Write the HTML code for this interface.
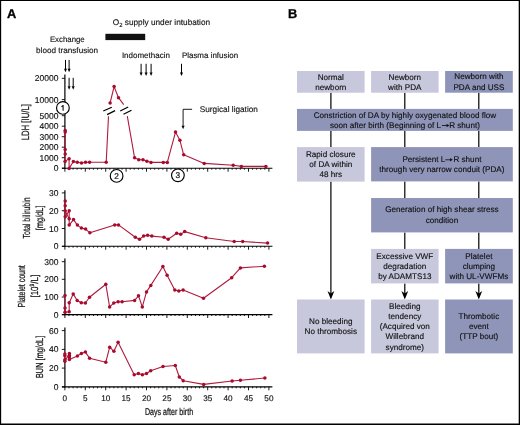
<!DOCTYPE html>
<html><head><meta charset="utf-8"><style>
html,body{margin:0;padding:0;background:#fff;}
svg{display:block;font-family:"Liberation Sans", sans-serif;text-rendering:geometricPrecision;will-change:transform;}
text{fill:#111;stroke:#111;stroke-width:0.14px;}
</style></head><body>
<svg width="520" height="425" viewBox="0 0 520 425">
<rect width="520" height="425" fill="#fff"/>
<path d="M0,0H520V0.95H0Z M0,0H1.15V425H0Z M518.7,0H520V425H518.7Z M0,423.5H520V425H0Z" fill="#000"/>
<text x="7.0" y="18.0" font-size="12.8" font-weight="bold" style="fill:#000;stroke:#000;stroke-width:0.3px">A</text>
<text x="288.0" y="18.0" font-size="12.8" font-weight="bold" style="fill:#000;stroke:#000;stroke-width:0.3px">B</text>
<line x1="62" y1="168.3" x2="272.4" y2="168.3" stroke="#000" stroke-width="1.1"/>
<path d="M64.90,168.3v3.4 M68.98,168.3v1.4 M73.06,168.3v1.4 M77.14,168.3v1.4 M81.22,168.3v1.4 M85.30,168.3v3.4 M89.38,168.3v1.4 M93.46,168.3v1.4 M97.54,168.3v1.4 M101.62,168.3v1.4 M105.70,168.3v3.4 M109.78,168.3v1.4 M113.86,168.3v1.4 M117.94,168.3v1.4 M122.02,168.3v1.4 M126.10,168.3v3.4 M130.18,168.3v1.4 M134.26,168.3v1.4 M138.34,168.3v1.4 M142.42,168.3v1.4 M146.50,168.3v3.4 M150.58,168.3v1.4 M154.66,168.3v1.4 M158.74,168.3v1.4 M162.82,168.3v1.4 M166.90,168.3v3.4 M170.98,168.3v1.4 M175.06,168.3v1.4 M179.14,168.3v1.4 M183.22,168.3v1.4 M187.30,168.3v3.4 M191.38,168.3v1.4 M195.46,168.3v1.4 M199.54,168.3v1.4 M203.62,168.3v1.4 M207.70,168.3v3.4 M211.78,168.3v1.4 M215.86,168.3v1.4 M219.94,168.3v1.4 M224.02,168.3v1.4 M228.10,168.3v3.4 M232.18,168.3v1.4 M236.26,168.3v1.4 M240.34,168.3v1.4 M244.42,168.3v1.4 M248.50,168.3v3.4 M252.58,168.3v1.4 M256.66,168.3v1.4 M260.74,168.3v1.4 M264.82,168.3v1.4 M268.90,168.3v3.4" stroke="#000" stroke-width="0.9"/>
<line x1="64.9" y1="74.4" x2="64.9" y2="169" stroke="#000" stroke-width="1.2"/>
<line x1="61.8" y1="78.3" x2="64.9" y2="78.3" stroke="#000" stroke-width="0.9"/>
<text x="58.5" y="81.3" font-size="8.5" text-anchor="end">20000</text>
<line x1="61.8" y1="99.6" x2="64.9" y2="99.6" stroke="#000" stroke-width="0.9"/>
<text x="58.5" y="102.6" font-size="8.5" text-anchor="end">10000</text>
<line x1="61.8" y1="115.7" x2="64.9" y2="115.7" stroke="#000" stroke-width="0.9"/>
<text x="58.5" y="118.7" font-size="8.5" text-anchor="end">5000</text>
<line x1="61.8" y1="126.2" x2="64.9" y2="126.2" stroke="#000" stroke-width="0.9"/>
<text x="58.5" y="129.2" font-size="8.5" text-anchor="end">4000</text>
<line x1="61.8" y1="136.7" x2="64.9" y2="136.7" stroke="#000" stroke-width="0.9"/>
<text x="58.5" y="139.7" font-size="8.5" text-anchor="end">3000</text>
<line x1="61.8" y1="147.2" x2="64.9" y2="147.2" stroke="#000" stroke-width="0.9"/>
<text x="58.5" y="150.2" font-size="8.5" text-anchor="end">2000</text>
<line x1="61.8" y1="157.7" x2="64.9" y2="157.7" stroke="#000" stroke-width="0.9"/>
<text x="58.5" y="160.7" font-size="8.5" text-anchor="end">1000</text>
<line x1="61.8" y1="168.2" x2="64.9" y2="168.2" stroke="#000" stroke-width="0.9"/>
<text x="58.5" y="171.2" font-size="8.5" text-anchor="end">0</text>
<line x1="62" y1="246.3" x2="272.4" y2="246.3" stroke="#000" stroke-width="1.1"/>
<path d="M64.90,246.3v3.4 M68.98,246.3v1.4 M73.06,246.3v1.4 M77.14,246.3v1.4 M81.22,246.3v1.4 M85.30,246.3v3.4 M89.38,246.3v1.4 M93.46,246.3v1.4 M97.54,246.3v1.4 M101.62,246.3v1.4 M105.70,246.3v3.4 M109.78,246.3v1.4 M113.86,246.3v1.4 M117.94,246.3v1.4 M122.02,246.3v1.4 M126.10,246.3v3.4 M130.18,246.3v1.4 M134.26,246.3v1.4 M138.34,246.3v1.4 M142.42,246.3v1.4 M146.50,246.3v3.4 M150.58,246.3v1.4 M154.66,246.3v1.4 M158.74,246.3v1.4 M162.82,246.3v1.4 M166.90,246.3v3.4 M170.98,246.3v1.4 M175.06,246.3v1.4 M179.14,246.3v1.4 M183.22,246.3v1.4 M187.30,246.3v3.4 M191.38,246.3v1.4 M195.46,246.3v1.4 M199.54,246.3v1.4 M203.62,246.3v1.4 M207.70,246.3v3.4 M211.78,246.3v1.4 M215.86,246.3v1.4 M219.94,246.3v1.4 M224.02,246.3v1.4 M228.10,246.3v3.4 M232.18,246.3v1.4 M236.26,246.3v1.4 M240.34,246.3v1.4 M244.42,246.3v1.4 M248.50,246.3v3.4 M252.58,246.3v1.4 M256.66,246.3v1.4 M260.74,246.3v1.4 M264.82,246.3v1.4 M268.90,246.3v3.4" stroke="#000" stroke-width="0.9"/>
<line x1="64.9" y1="190.2" x2="64.9" y2="247" stroke="#000" stroke-width="1.2"/>
<line x1="61.8" y1="192.9" x2="64.9" y2="192.9" stroke="#000" stroke-width="0.9"/>
<text x="58.5" y="195.9" font-size="8.5" text-anchor="end">30</text>
<line x1="61.8" y1="210.7" x2="64.9" y2="210.7" stroke="#000" stroke-width="0.9"/>
<text x="58.5" y="213.7" font-size="8.5" text-anchor="end">20</text>
<line x1="61.8" y1="228.5" x2="64.9" y2="228.5" stroke="#000" stroke-width="0.9"/>
<text x="58.5" y="231.5" font-size="8.5" text-anchor="end">10</text>
<line x1="61.8" y1="246.3" x2="64.9" y2="246.3" stroke="#000" stroke-width="0.9"/>
<text x="58.5" y="249.3" font-size="8.5" text-anchor="end">0</text>
<line x1="62" y1="314.6" x2="272.4" y2="314.6" stroke="#000" stroke-width="1.1"/>
<path d="M64.90,314.6v3.4 M68.98,314.6v1.4 M73.06,314.6v1.4 M77.14,314.6v1.4 M81.22,314.6v1.4 M85.30,314.6v3.4 M89.38,314.6v1.4 M93.46,314.6v1.4 M97.54,314.6v1.4 M101.62,314.6v1.4 M105.70,314.6v3.4 M109.78,314.6v1.4 M113.86,314.6v1.4 M117.94,314.6v1.4 M122.02,314.6v1.4 M126.10,314.6v3.4 M130.18,314.6v1.4 M134.26,314.6v1.4 M138.34,314.6v1.4 M142.42,314.6v1.4 M146.50,314.6v3.4 M150.58,314.6v1.4 M154.66,314.6v1.4 M158.74,314.6v1.4 M162.82,314.6v1.4 M166.90,314.6v3.4 M170.98,314.6v1.4 M175.06,314.6v1.4 M179.14,314.6v1.4 M183.22,314.6v1.4 M187.30,314.6v3.4 M191.38,314.6v1.4 M195.46,314.6v1.4 M199.54,314.6v1.4 M203.62,314.6v1.4 M207.70,314.6v3.4 M211.78,314.6v1.4 M215.86,314.6v1.4 M219.94,314.6v1.4 M224.02,314.6v1.4 M228.10,314.6v3.4 M232.18,314.6v1.4 M236.26,314.6v1.4 M240.34,314.6v1.4 M244.42,314.6v1.4 M248.50,314.6v3.4 M252.58,314.6v1.4 M256.66,314.6v1.4 M260.74,314.6v1.4 M264.82,314.6v1.4 M268.90,314.6v3.4" stroke="#000" stroke-width="0.9"/>
<line x1="64.9" y1="258.5" x2="64.9" y2="315.3" stroke="#000" stroke-width="1.2"/>
<line x1="61.8" y1="261.7" x2="64.9" y2="261.7" stroke="#000" stroke-width="0.9"/>
<text x="58.5" y="264.7" font-size="8.5" text-anchor="end">300</text>
<line x1="61.8" y1="279.3" x2="64.9" y2="279.3" stroke="#000" stroke-width="0.9"/>
<text x="58.5" y="282.3" font-size="8.5" text-anchor="end">200</text>
<line x1="61.8" y1="297.0" x2="64.9" y2="297.0" stroke="#000" stroke-width="0.9"/>
<text x="58.5" y="300.0" font-size="8.5" text-anchor="end">100</text>
<line x1="61.8" y1="314.6" x2="64.9" y2="314.6" stroke="#000" stroke-width="0.9"/>
<text x="58.5" y="317.6" font-size="8.5" text-anchor="end">0</text>
<line x1="62" y1="386.9" x2="272.4" y2="386.9" stroke="#000" stroke-width="1.1"/>
<path d="M64.90,386.9v3.4 M68.98,386.9v1.4 M73.06,386.9v1.4 M77.14,386.9v1.4 M81.22,386.9v1.4 M85.30,386.9v3.4 M89.38,386.9v1.4 M93.46,386.9v1.4 M97.54,386.9v1.4 M101.62,386.9v1.4 M105.70,386.9v3.4 M109.78,386.9v1.4 M113.86,386.9v1.4 M117.94,386.9v1.4 M122.02,386.9v1.4 M126.10,386.9v3.4 M130.18,386.9v1.4 M134.26,386.9v1.4 M138.34,386.9v1.4 M142.42,386.9v1.4 M146.50,386.9v3.4 M150.58,386.9v1.4 M154.66,386.9v1.4 M158.74,386.9v1.4 M162.82,386.9v1.4 M166.90,386.9v3.4 M170.98,386.9v1.4 M175.06,386.9v1.4 M179.14,386.9v1.4 M183.22,386.9v1.4 M187.30,386.9v3.4 M191.38,386.9v1.4 M195.46,386.9v1.4 M199.54,386.9v1.4 M203.62,386.9v1.4 M207.70,386.9v3.4 M211.78,386.9v1.4 M215.86,386.9v1.4 M219.94,386.9v1.4 M224.02,386.9v1.4 M228.10,386.9v3.4 M232.18,386.9v1.4 M236.26,386.9v1.4 M240.34,386.9v1.4 M244.42,386.9v1.4 M248.50,386.9v3.4 M252.58,386.9v1.4 M256.66,386.9v1.4 M260.74,386.9v1.4 M264.82,386.9v1.4 M268.90,386.9v3.4" stroke="#000" stroke-width="0.9"/>
<line x1="64.9" y1="327.5" x2="64.9" y2="387.6" stroke="#000" stroke-width="1.2"/>
<line x1="61.8" y1="330.6" x2="64.9" y2="330.6" stroke="#000" stroke-width="0.9"/>
<text x="58.5" y="333.6" font-size="8.5" text-anchor="end">60</text>
<line x1="61.8" y1="349.4" x2="64.9" y2="349.4" stroke="#000" stroke-width="0.9"/>
<text x="58.5" y="352.4" font-size="8.5" text-anchor="end">40</text>
<line x1="61.8" y1="368.1" x2="64.9" y2="368.1" stroke="#000" stroke-width="0.9"/>
<text x="58.5" y="371.1" font-size="8.5" text-anchor="end">20</text>
<line x1="61.8" y1="386.9" x2="64.9" y2="386.9" stroke="#000" stroke-width="0.9"/>
<text x="58.5" y="389.9" font-size="8.5" text-anchor="end">0</text>
<text x="64.9" y="401.1" font-size="8.2" text-anchor="middle">0</text>
<text x="85.3" y="401.1" font-size="8.2" text-anchor="middle">5</text>
<text x="105.7" y="401.1" font-size="8.2" text-anchor="middle">10</text>
<text x="126.1" y="401.1" font-size="8.2" text-anchor="middle">15</text>
<text x="146.5" y="401.1" font-size="8.2" text-anchor="middle">20</text>
<text x="166.9" y="401.1" font-size="8.2" text-anchor="middle">25</text>
<text x="187.3" y="401.1" font-size="8.2" text-anchor="middle">30</text>
<text x="207.7" y="401.1" font-size="8.2" text-anchor="middle">35</text>
<text x="228.1" y="401.1" font-size="8.2" text-anchor="middle">40</text>
<text x="248.5" y="401.1" font-size="8.2" text-anchor="middle">45</text>
<text x="268.9" y="401.1" font-size="8.2" text-anchor="middle">50</text>
<text x="169" y="414.6" font-size="9.8" text-anchor="middle" textLength="48.2" lengthAdjust="spacingAndGlyphs" style="stroke-width:0.22px">Days after birth</text>
<text transform="translate(28.5,122.2) rotate(-90)" x="0" y="0" font-size="10.6" text-anchor="middle" textLength="36.2" lengthAdjust="spacingAndGlyphs" style="stroke-width:0.22px">LDH [IU/L]</text>
<text transform="translate(29.8,217.9) rotate(-90)" x="0" y="0" font-size="10.2" text-anchor="middle" textLength="41.2" lengthAdjust="spacingAndGlyphs" style="stroke-width:0.22px">Total bilirubin</text>
<text transform="translate(42.6,217.85) rotate(-90)" x="0" y="0" font-size="10.2" text-anchor="middle" textLength="24.7" lengthAdjust="spacingAndGlyphs" style="stroke-width:0.22px">[mg/dL]</text>
<text transform="translate(25.2,286.35) rotate(-90)" x="0" y="0" font-size="10.2" text-anchor="middle" textLength="42.3" lengthAdjust="spacingAndGlyphs" style="stroke-width:0.22px">Platelet count</text>
<text transform="translate(37.7,286.2) rotate(-90)" x="0" y="0" font-size="10.2" text-anchor="middle" textLength="22.7" lengthAdjust="spacingAndGlyphs" style="stroke-width:0.22px">[10<tspan font-size="6.3" dy="-3.3">9</tspan><tspan dy="3.3">/L]</tspan></text>
<text transform="translate(42.9,356.95) rotate(-90)" x="0" y="0" font-size="10.2" text-anchor="middle" textLength="42.3" lengthAdjust="spacingAndGlyphs" style="stroke-width:0.22px">BUN [mg/dL]</text>
<path d="M65.2,130.4 L65.2,132 L65.2,149.5 L65.2,154.1 L65.0,161.4 L69.1,158.8 L69.1,168.4 L73.4,161.5 L77.3,162.2 L81.5,163 L85.5,162.2 L89.6,162.3 L106.2,162.3 L108.5,116.2" fill="none" stroke="#b01a3d" stroke-width="1.1" stroke-linejoin="round"/>
<g fill="#a80a2c"><circle cx="65.2" cy="130.4" r="1.75"/><circle cx="65.2" cy="132" r="1.75"/><circle cx="65.2" cy="149.5" r="1.75"/><circle cx="65.2" cy="154.1" r="1.75"/><circle cx="65.0" cy="161.4" r="1.75"/><circle cx="69.1" cy="158.8" r="1.75"/><circle cx="69.1" cy="168.4" r="1.75"/><circle cx="73.4" cy="161.5" r="1.75"/><circle cx="77.3" cy="162.2" r="1.75"/><circle cx="81.5" cy="163" r="1.75"/><circle cx="85.5" cy="162.2" r="1.75"/><circle cx="89.6" cy="162.3" r="1.75"/><circle cx="106.2" cy="162.3" r="1.75"/></g>
<path d="M110.1,102.9 L114.1,86.6 L118.5,97.7 L123.7,104.6" fill="none" stroke="#b01a3d" stroke-width="1.1" stroke-linejoin="round"/>
<g fill="#a80a2c"><circle cx="110.1" cy="102.9" r="1.75"/><circle cx="114.1" cy="86.6" r="1.75"/><circle cx="118.5" cy="97.7" r="1.75"/></g>
<path d="M127.3,116.2 L134.6,157.8 L138.75,159.7 L143,159.7 L146.9,161.3 L151,162.4 L163.3,162.4 L167.3,162.4 L175.5,132.1 L179.9,140.3 L183.7,154.8 L204.2,163.4 L233.2,165.2 L241.4,166.4 L265.9,166.4" fill="none" stroke="#b01a3d" stroke-width="1.1" stroke-linejoin="round"/>
<g fill="#a80a2c"><circle cx="134.6" cy="157.8" r="1.75"/><circle cx="138.75" cy="159.7" r="1.75"/><circle cx="143" cy="159.7" r="1.75"/><circle cx="146.9" cy="161.3" r="1.75"/><circle cx="151" cy="162.4" r="1.75"/><circle cx="163.3" cy="162.4" r="1.75"/><circle cx="167.3" cy="162.4" r="1.75"/><circle cx="175.5" cy="132.1" r="1.75"/><circle cx="179.9" cy="140.3" r="1.75"/><circle cx="183.7" cy="154.8" r="1.75"/><circle cx="204.2" cy="163.4" r="1.75"/><circle cx="233.2" cy="165.2" r="1.75"/><circle cx="241.4" cy="166.4" r="1.75"/><circle cx="265.9" cy="166.4" r="1.75"/></g>
<path d="M103.3,111 L111.8,107.3 M107.1,114.6 L115.1,110.6 M120.2,111 L128.2,107 M123.5,114.3 L131.5,110.3" stroke="#000" stroke-width="1.2"/>
<path d="M65.2,201.1 L65.2,205.8 L65.2,210.8 L65.2,216.8 L69.2,210.8 L69.2,218.7 L69.2,225.1 L73.5,219.6 L77.4,225.1 L81.4,228.1 L85.6,229.1 L89.9,232.8 L114.7,224.9 L118.5,224.9 L135.3,237.2 L139.5,239.3 L143.6,236.1 L147.6,235.3 L151.8,236.1 L164,237.2 L168.2,239.3 L176.7,233.2 L180.7,234.2 L184.7,231.6 L205.8,237.8 L234.2,241.5 L242.7,241.5 L267.6,243.1" fill="none" stroke="#b01a3d" stroke-width="1.1" stroke-linejoin="round"/>
<path d="M65.2,210.8 L69.2,218.7" fill="none" stroke="#b01a3d" stroke-width="1.1"/>
<g fill="#a80a2c"><circle cx="65.2" cy="201.1" r="1.75"/><circle cx="65.2" cy="205.8" r="1.75"/><circle cx="65.2" cy="210.8" r="1.75"/><circle cx="65.2" cy="216.8" r="1.75"/><circle cx="69.2" cy="210.8" r="1.75"/><circle cx="69.2" cy="218.7" r="1.75"/><circle cx="69.2" cy="225.1" r="1.75"/><circle cx="73.5" cy="219.6" r="1.75"/><circle cx="77.4" cy="225.1" r="1.75"/><circle cx="81.4" cy="228.1" r="1.75"/><circle cx="85.6" cy="229.1" r="1.75"/><circle cx="89.9" cy="232.8" r="1.75"/><circle cx="114.7" cy="224.9" r="1.75"/><circle cx="118.5" cy="224.9" r="1.75"/><circle cx="135.3" cy="237.2" r="1.75"/><circle cx="139.5" cy="239.3" r="1.75"/><circle cx="143.6" cy="236.1" r="1.75"/><circle cx="147.6" cy="235.3" r="1.75"/><circle cx="151.8" cy="236.1" r="1.75"/><circle cx="164" cy="237.2" r="1.75"/><circle cx="168.2" cy="239.3" r="1.75"/><circle cx="176.7" cy="233.2" r="1.75"/><circle cx="180.7" cy="234.2" r="1.75"/><circle cx="184.7" cy="231.6" r="1.75"/><circle cx="205.8" cy="237.8" r="1.75"/><circle cx="234.2" cy="241.5" r="1.75"/><circle cx="242.7" cy="241.5" r="1.75"/><circle cx="267.6" cy="243.1" r="1.75"/></g>
<path d="M65,295.5 L65,308.1 L65,312.3 L69.2,311.8 L69.2,302.7 L73.2,293.9 L77.2,300.5 L81.3,302.7 L85.4,303 L89.5,297.3 L105.8,284.2 L109.6,306.9 L113.8,303.1 L118.1,301.7 L122.1,301.7 L134.6,300.4 L138.5,295.8 L142.3,306.9 L146.5,291.9 L150.8,285.4 L162.9,266.5 L167.1,275.2 L174.8,290 L178.8,291 L183.1,290 L203.5,298.3 L231.7,277.7 L240.4,267.9 L264.4,266.2" fill="none" stroke="#b01a3d" stroke-width="1.1" stroke-linejoin="round"/>
<g fill="#a80a2c"><circle cx="65" cy="295.5" r="1.75"/><circle cx="65" cy="308.1" r="1.75"/><circle cx="65" cy="312.3" r="1.75"/><circle cx="69.2" cy="311.8" r="1.75"/><circle cx="69.2" cy="302.7" r="1.75"/><circle cx="73.2" cy="293.9" r="1.75"/><circle cx="77.2" cy="300.5" r="1.75"/><circle cx="81.3" cy="302.7" r="1.75"/><circle cx="85.4" cy="303" r="1.75"/><circle cx="89.5" cy="297.3" r="1.75"/><circle cx="105.8" cy="284.2" r="1.75"/><circle cx="109.6" cy="306.9" r="1.75"/><circle cx="113.8" cy="303.1" r="1.75"/><circle cx="118.1" cy="301.7" r="1.75"/><circle cx="122.1" cy="301.7" r="1.75"/><circle cx="134.6" cy="300.4" r="1.75"/><circle cx="138.5" cy="295.8" r="1.75"/><circle cx="142.3" cy="306.9" r="1.75"/><circle cx="146.5" cy="291.9" r="1.75"/><circle cx="150.8" cy="285.4" r="1.75"/><circle cx="162.9" cy="266.5" r="1.75"/><circle cx="167.1" cy="275.2" r="1.75"/><circle cx="174.8" cy="290" r="1.75"/><circle cx="178.8" cy="291" r="1.75"/><circle cx="183.1" cy="290" r="1.75"/><circle cx="203.5" cy="298.3" r="1.75"/><circle cx="231.7" cy="277.7" r="1.75"/><circle cx="240.4" cy="267.9" r="1.75"/><circle cx="264.4" cy="266.2" r="1.75"/></g>
<path d="M64.85,354.1 L64.85,355.8 L64.85,359.8 L64.85,361.2 L69.4,353.6 L69.4,355.4 L69.4,357.1 L69.4,359.5 L77.4,356 L81.4,353.4 L85.4,352.1 L89.6,358.3 L105.8,362.2 L109.7,347.2 L113.9,351.3 L118.1,342.2 L134.2,374.7 L138.4,373.5 L142.4,374.7 L146.5,373.5 L150.7,370.7 L163,366.5 L175.3,365.5 L179.3,377 L183.2,380.7 L203.7,384.4 L232.1,381 L240.4,380.3 L264.9,378" fill="none" stroke="#b01a3d" stroke-width="1.1" stroke-linejoin="round"/>
<g fill="#a80a2c"><circle cx="64.85" cy="354.1" r="1.75"/><circle cx="64.85" cy="355.8" r="1.75"/><circle cx="64.85" cy="359.8" r="1.75"/><circle cx="64.85" cy="361.2" r="1.75"/><circle cx="69.4" cy="353.6" r="1.75"/><circle cx="69.4" cy="355.4" r="1.75"/><circle cx="69.4" cy="357.1" r="1.75"/><circle cx="69.4" cy="359.5" r="1.75"/><circle cx="77.4" cy="356" r="1.75"/><circle cx="81.4" cy="353.4" r="1.75"/><circle cx="85.4" cy="352.1" r="1.75"/><circle cx="89.6" cy="358.3" r="1.75"/><circle cx="105.8" cy="362.2" r="1.75"/><circle cx="109.7" cy="347.2" r="1.75"/><circle cx="113.9" cy="351.3" r="1.75"/><circle cx="118.1" cy="342.2" r="1.75"/><circle cx="134.2" cy="374.7" r="1.75"/><circle cx="138.4" cy="373.5" r="1.75"/><circle cx="142.4" cy="374.7" r="1.75"/><circle cx="146.5" cy="373.5" r="1.75"/><circle cx="150.7" cy="370.7" r="1.75"/><circle cx="163" cy="366.5" r="1.75"/><circle cx="175.3" cy="365.5" r="1.75"/><circle cx="179.3" cy="377" r="1.75"/><circle cx="183.2" cy="380.7" r="1.75"/><circle cx="203.7" cy="384.4" r="1.75"/><circle cx="232.1" cy="381" r="1.75"/><circle cx="240.4" cy="380.3" r="1.75"/><circle cx="264.9" cy="378" r="1.75"/></g>
<circle cx="62.9" cy="107.9" r="6.35" fill="#fff" stroke="#000" stroke-width="1.15"/>
<path d="M61.4,106.7 Q62.699999999999996,106.10000000000001 63.1,105.10000000000001 V110.7" fill="none" stroke="#111" stroke-width="1.1"/>
<circle cx="116.6" cy="175.9" r="6.35" fill="#fff" stroke="#000" stroke-width="1.15"/>
<text x="116.6" y="178.85" font-size="8.3" text-anchor="middle" style="stroke-width:0.2px">2</text>
<circle cx="177.9" cy="175.3" r="6.35" fill="#fff" stroke="#000" stroke-width="1.15"/>
<text x="177.9" y="178.25" font-size="8.3" text-anchor="middle" style="stroke-width:0.2px">3</text>
<text x="67.3" y="42.4" font-size="8" text-anchor="middle" textLength="34.8" lengthAdjust="spacingAndGlyphs">Exchange</text>
<text x="67.1" y="52.7" font-size="8" text-anchor="middle" textLength="62" lengthAdjust="spacingAndGlyphs">blood transfusion</text>
<line x1="65.5" y1="59.9" x2="65.5" y2="69.2" stroke="#000" stroke-width="1.0"/>
<path d="M64.0,68.7 L67.0,68.7 L65.5,72.2 Z" fill="#000"/>
<line x1="69.1" y1="59.9" x2="69.1" y2="69.2" stroke="#000" stroke-width="1.0"/>
<path d="M67.6,68.7 L70.6,68.7 L69.1,72.2 Z" fill="#000"/>
<line x1="69.1" y1="77.8" x2="69.1" y2="86.7" stroke="#000" stroke-width="1.0"/>
<path d="M67.6,86.2 L70.6,86.2 L69.1,89.7 Z" fill="#000"/>
<line x1="73.2" y1="77.8" x2="73.2" y2="86.7" stroke="#000" stroke-width="1.0"/>
<path d="M71.7,86.2 L74.7,86.2 L73.2,89.7 Z" fill="#000"/>
<rect x="105.4" y="33.8" width="39.8" height="6.3" fill="#111"/>
<text x="112.8" y="25.2" font-size="8.25">O<tspan font-size="5.9" dy="2.1">2</tspan><tspan dy="-2.1"> supply under intubation</tspan></text>
<text x="121.9" y="57.8" font-size="8" textLength="48" lengthAdjust="spacingAndGlyphs">Indomethacin</text>
<line x1="141.1" y1="63.8" x2="141.1" y2="72.9" stroke="#000" stroke-width="1.0"/>
<path d="M139.6,72.4 L142.6,72.4 L141.1,75.9 Z" fill="#000"/>
<line x1="146.1" y1="63.8" x2="146.1" y2="72.9" stroke="#000" stroke-width="1.0"/>
<path d="M144.6,72.4 L147.6,72.4 L146.1,75.9 Z" fill="#000"/>
<line x1="151.1" y1="63.8" x2="151.1" y2="72.9" stroke="#000" stroke-width="1.0"/>
<path d="M149.6,72.4 L152.6,72.4 L151.1,75.9 Z" fill="#000"/>
<text x="181.9" y="58" font-size="8" textLength="56.2" lengthAdjust="spacingAndGlyphs">Plasma infusion</text>
<line x1="181.5" y1="63.8" x2="181.5" y2="73.0" stroke="#000" stroke-width="1.0"/>
<path d="M180.0,72.5 L183.0,72.5 L181.5,76.0 Z" fill="#000"/>
<path d="M192.1,109.3 H183.1 V126" fill="none" stroke="#000" stroke-width="0.9"/>
<path d="M181.6,125.8 L184.6,125.8 L183.1,129.2 Z" fill="#000"/>
<text x="199.8" y="111.9" font-size="8.2" textLength="58.1" lengthAdjust="spacingAndGlyphs">Surgical ligation</text>
<line x1="330.9" y1="92.7" x2="330.9" y2="109" stroke="#000" stroke-width="1.2"/>
<line x1="404.8" y1="92.7" x2="404.8" y2="109" stroke="#000" stroke-width="1.2"/>
<line x1="478.8" y1="92.7" x2="478.8" y2="109" stroke="#000" stroke-width="1.2"/>
<line x1="330.9" y1="130.8" x2="330.9" y2="147.1" stroke="#000" stroke-width="1.2"/>
<line x1="404.8" y1="130.8" x2="404.8" y2="147.1" stroke="#000" stroke-width="1.2"/>
<line x1="478.8" y1="130.8" x2="478.8" y2="147.1" stroke="#000" stroke-width="1.2"/>
<line x1="330.9" y1="181.6" x2="330.9" y2="294.4" stroke="#000" stroke-width="1.2"/>
<path d="M330.9,299.4 L327.5,291.0 L330.9,293.4 L334.29999999999995,291.0 Z" fill="#000"/>
<line x1="404.8" y1="181.4" x2="404.8" y2="198" stroke="#000" stroke-width="1.2"/>
<line x1="478.8" y1="181.4" x2="478.8" y2="198" stroke="#000" stroke-width="1.2"/>
<line x1="404.8" y1="232.4" x2="404.8" y2="249" stroke="#000" stroke-width="1.2"/>
<line x1="478.8" y1="232.4" x2="478.8" y2="249" stroke="#000" stroke-width="1.2"/>
<line x1="404.8" y1="283.4" x2="404.8" y2="294.4" stroke="#000" stroke-width="1.2"/>
<path d="M404.8,299.4 L401.40000000000003,291.0 L404.8,293.4 L408.2,291.0 Z" fill="#000"/>
<line x1="478.8" y1="283.4" x2="478.8" y2="294.4" stroke="#000" stroke-width="1.2"/>
<path d="M478.8,299.4 L475.40000000000003,291.0 L478.8,293.4 L482.2,291.0 Z" fill="#000"/>
<rect x="297" y="71" width="67.60" height="21.70" fill="#c7c8dc"/>
<rect x="371.1" y="71" width="67.50" height="21.70" fill="#c7c8dc"/>
<rect x="445.1" y="71" width="67.70" height="21.70" fill="#8f95b9"/>
<rect x="297" y="108.9" width="215.80" height="22.00" fill="#8f95b9"/>
<rect x="297" y="147.1" width="67.60" height="34.50" fill="#c7c8dc"/>
<rect x="371.1" y="147.1" width="141.70" height="34.30" fill="#8f95b9"/>
<rect x="371.1" y="198" width="141.70" height="34.40" fill="#8f95b9"/>
<rect x="371.1" y="248.9" width="67.50" height="34.50" fill="#c7c8dc"/>
<rect x="445.1" y="248.9" width="67.70" height="34.50" fill="#8f95b9"/>
<rect x="297" y="299.5" width="67.60" height="53.90" fill="#c7c8dc"/>
<rect x="371.1" y="299.5" width="67.50" height="53.90" fill="#c7c8dc"/>
<rect x="445.1" y="299.5" width="67.70" height="53.90" fill="#8f95b9"/>
<text x="330.8" y="79.6" font-size="8.15" text-anchor="middle">Normal</text>
<text x="330.8" y="89.75" font-size="8.15" text-anchor="middle">newborn</text>
<text x="404.8" y="79.6" font-size="8.15" text-anchor="middle">Newborn</text>
<text x="404.8" y="89.75" font-size="8.15" text-anchor="middle">with PDA</text>
<text x="478.9" y="79.4" font-size="8.15" text-anchor="middle">Newborn with</text>
<text x="478.9" y="89.55" font-size="8.15" text-anchor="middle">PDA and USS</text>
<text x="404.9" y="117.5" font-size="8.15" text-anchor="middle">Constriction of DA by highly oxygenated blood flow</text>
<text x="404.9" y="127.65" font-size="8.15" text-anchor="middle">soon after birth (Beginning of L<tspan style="fill:none;stroke:none">&#8594;</tspan>R shunt)</text>
<text x="330.8" y="156.9" font-size="8.15" text-anchor="middle">Rapid closure</text>
<text x="330.8" y="167.05" font-size="8.15" text-anchor="middle">of DA within</text>
<text x="330.8" y="177.2" font-size="8.15" text-anchor="middle">48 hrs</text>
<text x="441.9" y="161.8" font-size="8.15" text-anchor="middle">Persistent L<tspan style="fill:none;stroke:none">&#8594;</tspan>R shunt</text>
<text x="441.9" y="171.95" font-size="8.15" text-anchor="middle">through very narrow conduit (PDA)</text>
<text x="441.9" y="212.4" font-size="8.15" text-anchor="middle">Generation of high shear stress</text>
<text x="441.9" y="222.55" font-size="8.15" text-anchor="middle">condition</text>
<text x="404.8" y="258.6" font-size="8.15" text-anchor="middle">Excessive VWF</text>
<text x="404.8" y="268.75" font-size="8.15" text-anchor="middle">degradation</text>
<text x="404.8" y="278.9" font-size="8.15" text-anchor="middle">by ADAMTS13</text>
<text x="478.9" y="258.5" font-size="8.15" text-anchor="middle">Platelet</text>
<text x="478.9" y="268.65" font-size="8.15" text-anchor="middle">clumping</text>
<text x="478.9" y="278.8" font-size="8.15" text-anchor="middle">with UL-VWFMs</text>
<text x="330.8" y="324.2" font-size="8.15" text-anchor="middle">No bleeding</text>
<text x="330.8" y="334.35" font-size="8.15" text-anchor="middle">No thrombosis</text>
<text x="404.8" y="308.9" font-size="8.15" text-anchor="middle">Bleeding</text>
<text x="404.8" y="319.05" font-size="8.15" text-anchor="middle">tendency</text>
<text x="404.8" y="329.2" font-size="8.15" text-anchor="middle">(Acquired von</text>
<text x="404.8" y="339.35" font-size="8.15" text-anchor="middle">Willebrand</text>
<text x="404.8" y="349.5" font-size="8.15" text-anchor="middle">syndrome)</text>
<text x="478.9" y="318.9" font-size="8.15" text-anchor="middle">Thrombotic</text>
<text x="478.9" y="329.05" font-size="8.15" text-anchor="middle">event</text>
<text x="478.9" y="339.2" font-size="8.15" text-anchor="middle">(TTP bout)</text>
<line x1="445.3" y1="159.8" x2="450.6" y2="159.8" stroke="#151515" stroke-width="0.9"/>
<path d="M450.0,158.10000000000002 L452.8,159.8 L450.0,161.5 Z" fill="#151515"/>
<line x1="441.9" y1="125.5" x2="447.2" y2="125.5" stroke="#151515" stroke-width="0.9"/>
<path d="M446.59999999999997,123.8 L449.4,125.5 L446.59999999999997,127.2 Z" fill="#151515"/>
</svg>
</body></html>
